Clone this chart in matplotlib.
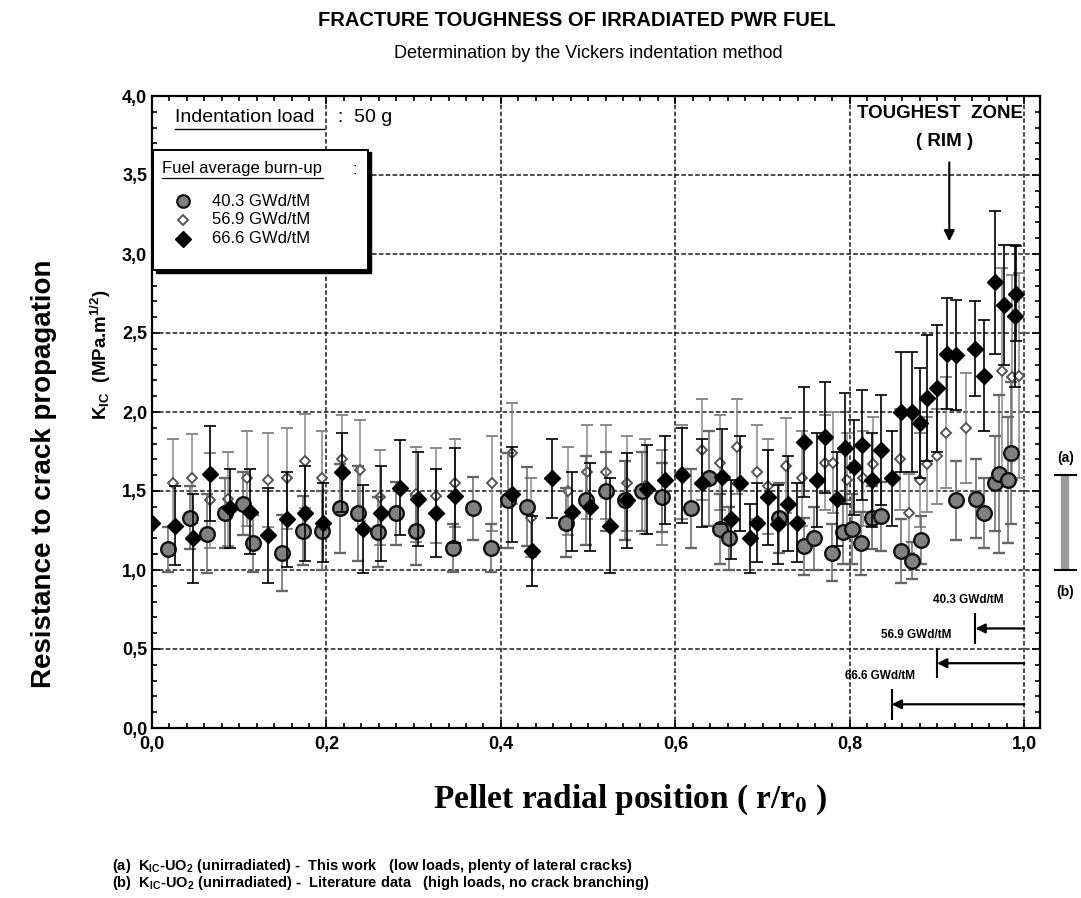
import matplotlib
matplotlib.use("Agg")
import matplotlib.pyplot as plt
from matplotlib.lines import Line2D
from matplotlib.patches import Rectangle
from matplotlib.ticker import MultipleLocator, FuncFormatter

# ---------------- data ----------------
burnups = ["40.3 GWd/tM", "56.9 GWd/tM", "66.6 GWd/tM"]

x_403 = [0.018, 0.044, 0.063, 0.084, 0.104, 0.116, 0.149, 0.173, 0.195, 0.215,
         0.236, 0.259, 0.280, 0.303, 0.345, 0.368, 0.389, 0.408, 0.430, 0.475,
         0.498, 0.521, 0.542, 0.562, 0.585, 0.618, 0.639, 0.651, 0.662, 0.719,
         0.748, 0.759, 0.780, 0.792, 0.803, 0.813, 0.825, 0.836, 0.859, 0.871,
         0.882, 0.922, 0.945, 0.954, 0.966, 0.971, 0.981, 0.985]
k_403 = [1.13, 1.33, 1.23, 1.36, 1.42, 1.17, 1.11, 1.25, 1.25, 1.39,
         1.36, 1.24, 1.36, 1.25, 1.14, 1.39, 1.14, 1.44, 1.40, 1.30,
         1.44, 1.50, 1.44, 1.50, 1.46, 1.39, 1.58, 1.26, 1.20, 1.33,
         1.15, 1.20, 1.11, 1.24, 1.26, 1.17, 1.33, 1.34, 1.12, 1.06,
         1.19, 1.44, 1.45, 1.36, 1.55, 1.61, 1.57, 1.74]
err_403 = [0.14, 0.20, 0.25, 0.22, 0.20, 0.18, 0.24, 0.22, 0.25, 0.28,
           0.30, 0.22, 0.20, 0.22, 0.15, 0.20, 0.15, 0.30, 0.25, 0.22,
           0.28, 0.25, 0.25, 0.25, 0.22, 0.25, 0.30, 0.22, 0.20, 0.22,
           0.18, 0.20, 0.18, 0.20, 0.22, 0.20, 0.20, 0.22, 0.20, 0.12,
           0.15, 0.25, 0.25, 0.22, 0.30, 0.50, 0.40, 0.45]

x_569 = [0.024, 0.046, 0.066, 0.087, 0.109, 0.133, 0.155, 0.175, 0.195, 0.218,
         0.238, 0.261, 0.303, 0.326, 0.347, 0.390, 0.413, 0.435, 0.477, 0.499,
         0.521, 0.544, 0.565, 0.585, 0.608, 0.630, 0.651, 0.671, 0.694, 0.706,
         0.727, 0.745, 0.771, 0.781, 0.797, 0.815, 0.826, 0.857, 0.868, 0.880,
         0.889, 0.900, 0.910, 0.933, 0.975, 0.986, 0.994]
k_569 = [1.55, 1.58, 1.44, 1.45, 1.58, 1.57, 1.58, 1.69, 1.58, 1.70,
         1.63, 1.46, 1.48, 1.47, 1.55, 1.55, 1.74, 1.33, 1.50, 1.62,
         1.62, 1.55, 1.53, 1.46, 1.62, 1.76, 1.68, 1.78, 1.62, 1.53,
         1.66, 1.58, 1.68, 1.68, 1.57, 1.58, 1.67, 1.70, 1.36, 1.57,
         1.67, 1.72, 1.87, 1.90, 2.26, 2.22, 2.23]
err_569 = [0.28, 0.28, 0.30, 0.30, 0.30, 0.30, 0.32, 0.30, 0.30, 0.28,
           0.32, 0.30, 0.30, 0.30, 0.28, 0.30, 0.32, 0.25, 0.28, 0.30,
           0.30, 0.30, 0.30, 0.30, 0.30, 0.32, 0.30, 0.30, 0.30, 0.30,
           0.30, 0.30, 0.30, 0.32, 0.30, 0.30, 0.30, 0.32, 0.25, 0.30,
           0.30, 0.30, 0.35, 0.35, 0.65, 0.65, 0.65]

x_666 = [0.000, 0.026, 0.047, 0.066, 0.089, 0.112, 0.133, 0.155, 0.175, 0.196,
         0.218, 0.242, 0.263, 0.284, 0.305, 0.326, 0.347, 0.413, 0.436, 0.458,
         0.481, 0.502, 0.525, 0.545, 0.567, 0.588, 0.608, 0.631, 0.653, 0.664,
         0.674, 0.685, 0.694, 0.706, 0.718, 0.729, 0.739, 0.748, 0.762, 0.771,
         0.785, 0.794, 0.805, 0.814, 0.825, 0.836, 0.848, 0.859, 0.871, 0.880,
         0.889, 0.900, 0.911, 0.922, 0.943, 0.954, 0.966, 0.977, 0.989, 0.991]
k_666 = [1.30, 1.28, 1.20, 1.61, 1.39, 1.37, 1.22, 1.32, 1.36, 1.30,
         1.62, 1.26, 1.36, 1.52, 1.45, 1.36, 1.47, 1.48, 1.12, 1.58,
         1.37, 1.40, 1.28, 1.44, 1.51, 1.57, 1.60, 1.55, 1.59, 1.32,
         1.55, 1.20, 1.30, 1.46, 1.29, 1.42, 1.30, 1.81, 1.57, 1.84,
         1.45, 1.77, 1.65, 1.79, 1.57, 1.76, 1.58, 2.00, 2.00, 1.93,
         2.09, 2.15, 2.37, 2.36, 2.40, 2.23, 2.82, 2.68, 2.61, 2.75]
err_666 = [0.20, 0.25, 0.28, 0.30, 0.25, 0.27, 0.30, 0.30, 0.30, 0.25,
           0.25, 0.28, 0.30, 0.30, 0.30, 0.28, 0.30, 0.30, 0.22, 0.25,
           0.25, 0.28, 0.30, 0.30, 0.28, 0.28, 0.30, 0.28, 0.30, 0.25,
           0.30, 0.22, 0.25, 0.30, 0.25, 0.30, 0.25, 0.35, 0.30, 0.35,
           0.30, 0.35, 0.30, 0.35, 0.30, 0.35, 0.30, 0.38, 0.38, 0.35,
           0.40, 0.40, 0.35, 0.35, 0.30, 0.35, 0.45, 0.38, 0.45, 0.30]

# start of the rim zone for each burn-up (r/r0)
rim_start = [0.944, 0.900, 0.848]
rim_level = [0.63, 0.41, 0.15]

# unirradiated UO2 reference band: (b) literature .. (a) this work
ref_low, ref_high = 1.0, 1.6

# ---------------- style ----------------
plt.rcParams["font.family"] = ["Liberation Sans", "DejaVu Sans"]
plt.rcParams["font.weight"] = "bold"
plt.rcParams["mathtext.default"] = "regular"

W, H = 1081, 898
fig = plt.figure(figsize=(W / 100, H / 100), dpi=100)
ax = fig.add_axes([152 / W, 1 - 728 / H, (1040 - 152) / W, (728 - 96) / H])


def fp(x, y):
    return (x / W, 1 - y / H)


# ---------------- series ----------------
ax.errorbar(x_569, k_569, yerr=err_569, fmt="D", ms=5.5, mfc="white",
            mec="#555555", mew=1.4, ecolor="#8a8a8a", elinewidth=1.1,
            capsize=4, capthick=1.1, zorder=3)
ax.errorbar(x_403, k_403, yerr=err_403, fmt="o", ms=10.5, mfc="#808080",
            mec="#111111", mew=1.7, ecolor="#666666", elinewidth=1.1,
            capsize=4, capthick=1.1, zorder=4)
ax.errorbar(x_666, k_666, yerr=err_666, fmt="D", ms=8, mfc="black",
            mec="black", ecolor="black", elinewidth=1.2,
            capsize=4, capthick=1.2, zorder=5)

# ---------------- axes ----------------
ax.set_xlim(0, 1.018)
ax.set_ylim(0, 4.0)
ax.xaxis.set_major_locator(MultipleLocator(0.2))
ax.xaxis.set_minor_locator(MultipleLocator(0.02))
ax.yaxis.set_major_locator(MultipleLocator(0.5))
ax.yaxis.set_minor_locator(MultipleLocator(0.1))
comma = FuncFormatter(lambda v, p: f"{v:.1f}".replace(".", ","))
ax.xaxis.set_major_formatter(comma)
ax.yaxis.set_major_formatter(comma)
ax.tick_params(which="both", direction="in", top=True, right=True,
               labelsize=13, width=1.2, colors="black")
ax.tick_params(which="major", length=6)
ax.tick_params(which="minor", length=3.5)
ax.tick_params(axis="x", pad=6)
for s in ax.spines.values():
    s.set_linewidth(1.6)
ax.grid(True, which="major", color="#1a1a1a", linestyle=(0, (3, 1.5)),
        linewidth=1.1, zorder=0)
ax.set_axisbelow(True)

# ---------------- titles & labels ----------------
fig.text(*fp(577, 20), "FRACTURE TOUGHNESS OF IRRADIATED PWR FUEL",
         ha="center", va="center", fontsize=14.5)
fig.text(*fp(588, 53), "Determination by the Vickers indentation method",
         ha="center", va="center", fontsize=13, fontweight="normal")
fig.text(*fp(44, 474), "Resistance to crack propagation", rotation=90,
         ha="center", va="center", fontsize=20)
fig.text(*fp(101, 355), r"K$_{IC}$  (MPa.m$^{1/2}$)", rotation=90,
         ha="center", va="center", fontsize=13.5)
fig.text(*fp(630, 800), r"Pellet radial position ( r/r$_0$ )",
         ha="center", va="center", fontsize=24,
         family=["Liberation Serif", "DejaVu Serif"])

fig.text(*fp(112, 866),
         r"(a)  K$_{IC}$-UO$_2$ (unirradiated) -  This work   (low loads, plenty of lateral cracks)",
         ha="left", va="center", fontsize=10.5)
fig.text(*fp(112, 883),
         r"(b)  K$_{IC}$-UO$_2$ (unirradiated) -  Literature data   (high loads, no crack branching)",
         ha="left", va="center", fontsize=10.5)

# ---------------- indentation load & legend box ----------------
fig.text(*fp(175, 118), "Indentation load", ha="left", va="center",
         fontsize=14, fontweight="normal")
fig.add_artist(Line2D([175 / W, 324 / W], [1 - 129 / H, 1 - 129 / H],
                      color="black", lw=1.0))
fig.text(*fp(338, 118), ":  50 g", ha="left", va="center",
         fontsize=14, fontweight="normal")

x0, y0, x1, y1 = 153, 150, 368, 270
fig.add_artist(Rectangle((x0 / W + 2.5 / W, 1 - (y1 + 2.5) / H),
                         (x1 - x0) / W, (y1 - y0) / H, transform=fig.transFigure,
                         facecolor="black", edgecolor="black", zorder=9))
fig.add_artist(Rectangle((x0 / W, 1 - y1 / H), (x1 - x0) / W, (y1 - y0) / H,
                         transform=fig.transFigure, facecolor="white",
                         edgecolor="black", lw=1.4, zorder=10))
fig.text(*fp(162, 169), "Fuel average burn-up", ha="left", va="center",
         fontsize=12, fontweight="normal", zorder=11)
fig.add_artist(Line2D([162 / W, 323 / W], [1 - 178 / H, 1 - 178 / H],
                      color="black", lw=0.9, zorder=11))
fig.text(*fp(352, 169), ":", ha="left", va="center", fontsize=12,
         fontweight="normal", zorder=11)

legend_styles = [
    dict(marker="o", ms=9, mfc="#808080", mec="#111111", mew=1.6),
    dict(marker="D", ms=5, mfc="white", mec="#555555", mew=1.4),
    dict(marker="D", ms=8, mfc="black", mec="black"),
]
for i, (name, st) in enumerate(zip(burnups, legend_styles)):
    yy = 201 + 19 * i
    fig.add_artist(Line2D([183 / W], [1 - yy / H], linestyle="none",
                          zorder=11, **st))
    fig.text(*fp(212, yy), name, ha="left", va="center", fontsize=12,
             fontweight="normal", zorder=11)

# ---------------- toughest zone ----------------
fig.text(*fp(940, 114), "TOUGHEST  ZONE", ha="center", va="center",
         fontsize=13.5)
fig.text(*fp(945, 141), "( RIM )", ha="center", va="center", fontsize=13.5)
ax.annotate("", xy=(0.914, 3.08), xytext=(0.914, 3.58),
            arrowprops=dict(arrowstyle="-|>", color="black", lw=1.5,
                            mutation_scale=16, shrinkA=0, shrinkB=0))

# rim width arrows per burn-up
label_pos = [(0.936, 0.81), (0.876, 0.59), (0.835, 0.33)]
for start, lvl, name, (tx, ty) in zip(rim_start, rim_level, burnups, label_pos):
    ax.annotate("", xy=(start, lvl), xytext=(1.0, lvl),
                arrowprops=dict(arrowstyle="-|>", color="black", lw=1.6,
                                mutation_scale=14, shrinkA=0, shrinkB=0),
                zorder=6)
    ax.plot([start, start], [lvl - 0.09, lvl + 0.09], color="black", lw=1.5,
            zorder=6)
    ax.text(tx, ty, name, ha="center", va="center", fontsize=8.5, zorder=6)

# ---------------- unirradiated reference band ----------------
xb = 1.047
ax.plot([xb, xb], [ref_low, ref_high], color="#9a9a9a", lw=6,
        solid_capstyle="butt", clip_on=False)
ax.plot([xb - 0.012, xb + 0.012], [ref_high, ref_high], color="black",
        lw=1.5, clip_on=False)
ax.plot([xb - 0.012, xb + 0.012], [ref_low, ref_low], color="black",
        lw=1.5, clip_on=False)
ax.text(xb, ref_high + 0.11, "(a)", ha="center", va="center", fontsize=10,
        clip_on=False)
ax.text(xb, ref_low - 0.14, "(b)", ha="center", va="center", fontsize=10,
        clip_on=False)

fig.savefig("out.png", dpi=100)
